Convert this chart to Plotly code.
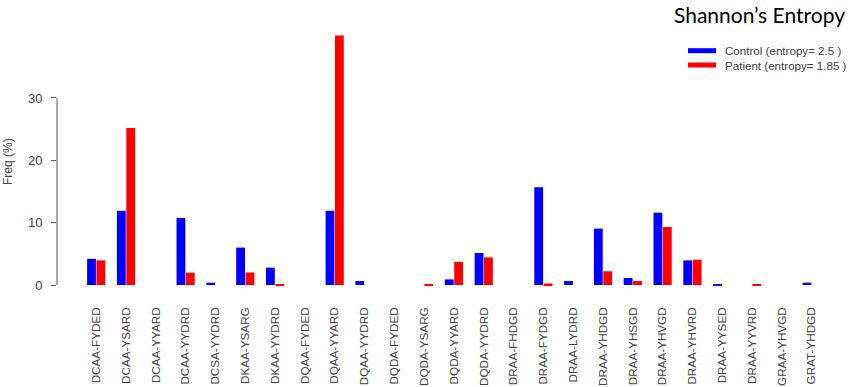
import plotly.graph_objects as go

categories = ["DCAA-FYDED", "DCAA-YSARD", "DCAA-YYARD", "DCAA-YYDRD", "DCSA-YYDRD",
              "DKAA-YSARG", "DKAA-YYDRD", "DQAA-FYDED", "DQAA-YYARD", "DQAA-YYDRD",
              "DQDA-FYDED", "DQDA-YSARG", "DQDA-YYARD", "DQDA-YYDRD", "DRAA-FHDGD",
              "DRAA-FYDGD", "DRAA-LYDRD", "DRAA-YHDGD", "DRAA-YHSGD", "DRAA-YHVGD",
              "DRAA-YHVRD", "DRAA-YYSED", "DRAA-YYVRD", "GRAA-YHVGD", "GRAT-YHDGD"]
control = [4.2, 11.9, 0, 10.75, 0.37, 6.0, 2.78, 0, 11.9, 0.64,
           0, 0, 0.9, 5.13, 0, 15.67, 0.64, 9.04, 1.12, 11.6,
           3.95, 0.12, 0, 0, 0.37]
patient = [3.95, 25.2, 0, 1.97, 0, 2.0, 0.15, 0, 40.0, 0,
           0, 0.18, 3.7, 4.43, 0, 0.25, 0, 2.2, 0.64, 9.3,
           4.06, 0, 0.15, 0, 0]
y_ticks = [0, 10, 20, 30]
series_names = ["Control (entropy= 2.5 )", "Patient (entropy= 1.85 )"]
title_text = "Shannon’s Entropy"
y_title = "Freq (%)"

BLUE = "#0000FF"
RED = "#FF0000"
GREY = "#404040"
colors = [BLUE, RED]

W, H = 850, 387
L, R, T, B = 57, 10, 20, 97
PW, PH = W - L - R, H - T - B


def px(xp):
    return (xp - L) / PW


def py(yp):
    return (H - B - yp) / PH


fig = go.Figure()
for name, vals, col in zip(series_names, [control, patient], colors):
    fig.add_trace(go.Bar(x=categories, y=vals, name=name,
                         marker=dict(color=col, line=dict(width=0)), showlegend=False))

shapes = [dict(type="line", xref="paper", yref="y", x0=0, x1=0, y0=y_ticks[0], y1=y_ticks[-1],
               line=dict(color="#555555", width=1))]
annotations = [
    dict(text=y_title, textangle=-90, xref="paper", yref="paper",
         x=px(8), y=py(162), xanchor="center", yanchor="middle",
         showarrow=False, font=dict(size=12, color=GREY)),
    dict(text=title_text, xref="paper", yref="paper", x=px(847), y=py(0),
         xanchor="right", yanchor="top", showarrow=False,
         font=dict(family="Lato, Open Sans, sans-serif", size=21, color="black")),
]
for i, (name, col) in enumerate(zip(series_names, colors)):
    yy = 50.7 + i * 14.3
    shapes.append(dict(type="line", xref="paper", yref="paper", x0=px(688), x1=px(716),
                       y0=py(yy), y1=py(yy), line=dict(color=col, width=5)))
    annotations.append(dict(text=name, xref="paper", yref="paper", x=px(723), y=py(yy),
                            xanchor="left", yanchor="middle", showarrow=False,
                            font=dict(size=11.6, color=GREY)))

fig.update_layout(
    width=W, height=H,
    margin=dict(l=L, r=R, t=T, b=B, autoexpand=False),
    paper_bgcolor="white", plot_bgcolor="white",
    barmode="group", bargap=0.37, bargroupgap=0.06,
    font=dict(family="Arial, Liberation Sans, sans-serif", size=12, color=GREY),
    showlegend=False,
    xaxis=dict(range=[-1.315, 24.95], showline=False, showgrid=False, zeroline=False,
               automargin=False, ticks="", tickangle=-90, ticklabelstandoff=14,
               tickfont=dict(size=11.7, color=GREY)),
    yaxis=dict(range=[-0.8, 42.5], showline=False, showgrid=False, zeroline=False,
               automargin=False, tickvals=y_ticks, ticks="outside", ticklen=5,
               ticklabelstandoff=6,
               tickcolor="#555555", tickwidth=1, tickfont=dict(size=13, color=GREY)),
    annotations=annotations,
    shapes=shapes,
)

fig.write_html("out.html", config={"displayModeBar": False},
               post_script="document.body.style.margin='0';document.body.style.padding='0';")
